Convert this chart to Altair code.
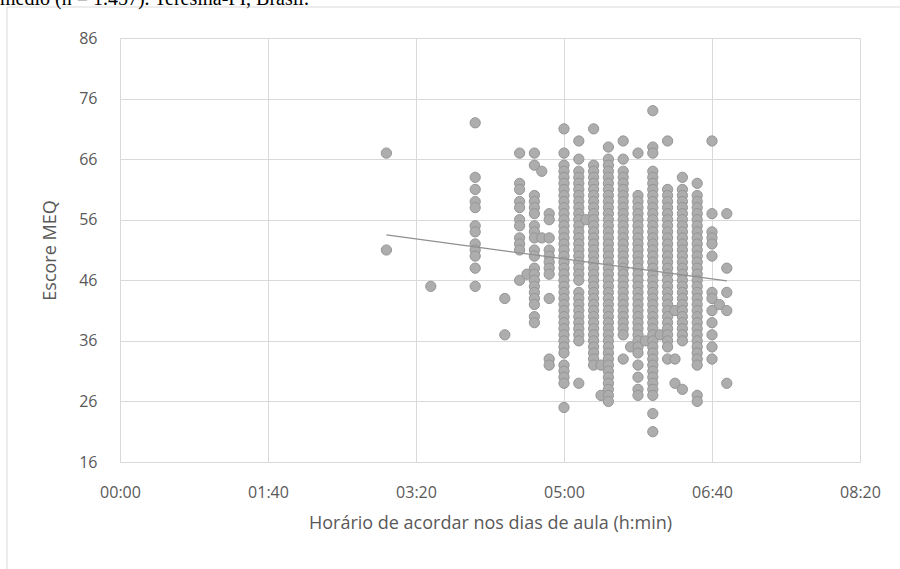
import altair as alt
import pandas as pd

CAPTION = "médio (n = 1.457). Teresina-PI, Brasil."
X_TITLE = "Horário de acordar nos dias de aula (h:min)"
Y_TITLE = "Escore MEQ"

# MEQ scores observed at each school-day wake-up time (minutes after midnight)
meq_0300 = [67, 51]
meq_0330 = [45]
meq_0400 = [72, 63, 61, 59, 58, 55, 54, 52, 51, 50, 48, 45]
meq_0420 = [43, 37]
meq_0430 = [67, 62, 61, 59, 58, 56, 55, 53, 52, 51, 46]
meq_0435 = [47]
meq_0440 = [67, 65, 60, 59, 58, 57, 55, 54, 53, 51, 50, 48, 47, 46, 45, 44, 43, 42, 40, 39]
meq_0445 = [64, 53]
meq_0450 = [57, 56, 53, 51, 50, 49, 48, 47, 43, 33, 32]
meq_0500 = [71, 67, 65, 64, 63, 62, 61, 60, 59, 58, 57, 56, 55, 54, 53, 52, 51, 50, 49,
            48, 47, 46, 45, 44, 43, 42, 41, 40, 39, 38, 37, 36, 35, 34, 32, 31, 30, 29, 25]
meq_0510 = [69, 66, 64, 63, 62, 61, 60, 59, 58, 57, 56, 55, 54, 53, 52, 51, 50, 49, 48,
            47, 46, 44, 43, 42, 41, 40, 39, 38, 37, 36, 29]
meq_0515 = [56]
meq_0520 = [71, 65, 64, 63, 62, 61, 60, 59, 58, 57, 56, 55, 54, 53, 52, 51, 50, 49, 48,
            47, 46, 45, 44, 43, 42, 41, 40, 39, 38, 37, 36, 35, 34, 33, 32]
meq_0525 = [32, 27]
meq_0530 = [68, 66, 65, 64, 63, 62, 61, 60, 59, 58, 57, 56, 55, 54, 53, 52, 51, 50, 49,
            48, 47, 46, 45, 44, 43, 42, 41, 40, 39, 38, 37, 36, 35, 34, 33, 32, 31, 30,
            29, 28, 27, 26]
meq_0540 = [69, 66, 64, 63, 62, 61, 60, 59, 58, 57, 56, 55, 54, 53, 52, 51, 50, 49, 48,
            47, 46, 45, 44, 43, 42, 41, 40, 39, 38, 37, 33]
meq_0545 = [35]
meq_0550 = [67, 60, 59, 58, 57, 56, 55, 54, 53, 52, 51, 50, 49, 48, 47, 46, 45, 44, 43,
            42, 41, 40, 39, 38, 37, 36, 35, 34, 32, 30, 28, 27]
meq_0555 = [36]
meq_0600 = [74, 68, 67, 64, 63, 62, 61, 60, 59, 58, 57, 56, 55, 54, 53, 52, 51, 50, 49,
            48, 47, 46, 45, 44, 43, 42, 41, 40, 39, 38, 37, 36, 35, 34, 33, 32, 31, 30,
            29, 28, 27, 24, 21]
meq_0605 = [37]
meq_0610 = [69, 61, 60, 59, 58, 57, 56, 55, 54, 53, 52, 51, 50, 49, 48, 47, 46, 45, 44,
            43, 42, 41, 40, 39, 38, 37, 36, 35, 33]
meq_0615 = [41, 33, 29]
meq_0620 = [63, 61, 60, 59, 58, 57, 56, 55, 54, 53, 52, 51, 50, 49, 48, 47, 46, 45, 44,
            43, 42, 41, 40, 39, 38, 37, 36, 28]
meq_0630 = [62, 60, 59, 58, 57, 56, 55, 54, 53, 52, 51, 50, 49, 48, 47, 46, 45, 44, 43,
            42, 41, 40, 39, 38, 37, 36, 35, 34, 33, 32, 27, 26]
meq_0640 = [69, 57, 54, 53, 52, 50, 44, 43, 41, 39, 37, 35, 33]
meq_0645 = [42]
meq_0650 = [57, 48, 44, 41, 29]

wake_columns = [
    (180, meq_0300), (210, meq_0330), (240, meq_0400), (260, meq_0420),
    (270, meq_0430), (275, meq_0435), (280, meq_0440), (285, meq_0445),
    (290, meq_0450), (300, meq_0500), (310, meq_0510), (315, meq_0515),
    (320, meq_0520), (325, meq_0525), (330, meq_0530), (340, meq_0540),
    (345, meq_0545), (350, meq_0550), (355, meq_0555), (360, meq_0600),
    (365, meq_0605), (370, meq_0610), (375, meq_0615), (380, meq_0620),
    (390, meq_0630), (400, meq_0640), (405, meq_0645), (410, meq_0650),
]

# Linear trend line endpoints
trend_time = [180, 410]
trend_score = [53.5, 45.9]

x_ticks = [0, 100, 200, 300, 400, 500]
x_tick_labels = ["00:00", "01:40", "03:20", "05:00", "06:40", "08:20"]
y_ticks = [16, 26, 36, 46, 56, 66, 76, 86]

points = pd.DataFrame(
    [{"wake": t, "meq": s} for t, scores in wake_columns for s in scores]
)
trend = pd.DataFrame({"wake": trend_time, "meq": trend_score})

label_expr = " : ".join(
    f"datum.value == {v} ? '{lab}'" for v, lab in zip(x_ticks, x_tick_labels)
) + " : ''"

FONT = "Open Sans"
TEXT_GREY = "#595959"
GRID_GREY = "#D9D9D9"

x_enc = alt.X(
    "wake:Q",
    scale=alt.Scale(domain=[0, 500], nice=False, zero=False),
    axis=alt.Axis(
        values=x_ticks, labelExpr=label_expr, title=X_TITLE,
        grid=True, ticks=False, labelFlush=False,
        labelPadding=22, titlePadding=14,
    ),
)
y_enc = alt.Y(
    "meq:Q",
    scale=alt.Scale(domain=[16, 86], nice=False, zero=False),
    axis=alt.Axis(
        values=y_ticks, title=Y_TITLE, grid=True, ticks=False,
        domain=False, labelPadding=23, titlePadding=19,
    ),
)

scatter = alt.Chart(points).mark_circle(
    size=105, color="#ADADAD", opacity=1, stroke="#959595", strokeWidth=1
).encode(x=x_enc, y=y_enc)

trend_line = alt.Chart(trend).mark_line(
    color="#8F8F8F", strokeWidth=1.2
).encode(x="wake:Q", y="meq:Q")

frame = alt.Chart(alt.Data(values=[{"k": 1}])).mark_rect(
    fillOpacity=0, stroke=GRID_GREY, strokeWidth=1
).encode(
    x=alt.value(-113), x2=alt.value(800), y=alt.value(-31), y2=alt.value(560)
)

caption = alt.Chart(alt.Data(values=[{"caption": CAPTION}])).mark_text(
    align="left", baseline="alphabetic", font="Liberation Serif",
    fontSize=20, color="#000000"
).encode(x=alt.value(-120), y=alt.value(-33), text="caption:N")

chart = alt.layer(frame, scatter, trend_line, caption).properties(
    width=740,
    height=424,
    padding={"left": 120, "top": 38, "right": 40, "bottom": 107},
    autosize=alt.AutoSizeParams(type="none"),
    background="white",
).configure_view(
    strokeWidth=0
).configure_axis(
    gridColor=GRID_GREY, domainColor=GRID_GREY, gridWidth=1,
    labelFont=FONT, labelFontSize=16, labelColor=TEXT_GREY,
    titleFont=FONT, titleFontSize=18, titleColor=TEXT_GREY,
    titleFontWeight="normal",
)

chart.save("out.html", embed_options={"renderer": "svg", "actions": False})
